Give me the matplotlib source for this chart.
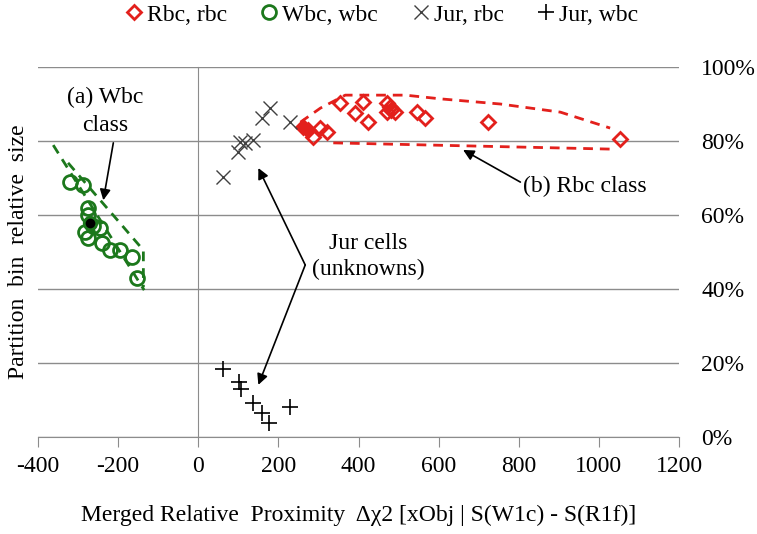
import matplotlib.pyplot as plt
from matplotlib.ticker import PercentFormatter

plt.rcParams['font.family'] = ['Liberation Serif', 'DejaVu Serif']
plt.rcParams['axes.unicode_minus'] = False

# Rbc cells (red diamonds), values in percent
rbc_x = [287, 305, 322, 354, 392, 412, 424, 472, 472, 478, 482, 492, 547, 567, 724, 1053]
rbc_y = [81.1, 83.5, 82.4, 90.3, 87.6, 90.5, 85.1, 90.3, 87.8, 89.3, 88.5, 87.8, 87.8, 86.2, 85.1, 80.5]
rbc_center_x = [262, 274]
rbc_center_y = [83.8, 83.0]

# Wbc cells (green circles)
wbc_x = [-320, -287, -275, -275, -282, -275, -262, -245, -240, -220, -195, -165, -152]
wbc_y = [68.9, 68.1, 61.9, 60.0, 55.4, 53.8, 57.0, 56.5, 52.4, 50.5, 50.5, 48.6, 43.0]
wbc_center_x = [-270]
wbc_center_y = [57.8]

# Jur cells (unknowns)
jur_rbc_x = [62, 100, 105, 117, 137, 160, 180, 230]
jur_rbc_y = [70.3, 77.0, 79.7, 79.5, 80.3, 86.2, 88.9, 85.1]
jur_wbc_x = [62, 102, 107, 137, 160, 177, 230]
jur_wbc_y = [18.4, 14.9, 13.0, 9.2, 6.5, 3.8, 8.1]

# hand-drawn class outlines
rbc_upper_x = [255, 305, 367, 517, 604, 754, 904, 1028]
rbc_upper_y = [85.1, 88.9, 92.4, 92.4, 91.4, 90.0, 87.8, 83.5]
rbc_lower_x = [337, 1036]
rbc_lower_y = [79.5, 77.8]
wbc_left_x = [-362, -135]
wbc_left_y = [78.9, 39.7]
wbc_right_x = [-325, -137, -137]
wbc_right_y = [74.1, 50.5, 40.5]

red = '#e3201c'
green = '#1c781c'
grid = '#8c8c8c'
fs = 17

fig = plt.figure(figsize=(7.57, 5.34), dpi=100)
ax = fig.add_axes([0.0502, 0.1816, 0.8468, 0.6929])

ax.plot(rbc_upper_x, rbc_upper_y, '--', color=red, lw=2, dashes=(3.5, 2.5))
ax.plot(rbc_lower_x, rbc_lower_y, '--', color=red, lw=2, dashes=(3.5, 2.5))
ax.plot(wbc_left_x, wbc_left_y, '--', color=green, lw=2, dashes=(3.5, 2.5))
ax.plot(wbc_right_x, wbc_right_y, '--', color=green, lw=2, dashes=(3.5, 2.5))

h1, = ax.plot(rbc_x, rbc_y, 'D', ls='none', ms=7.5, mfc='none', mec=red, mew=2, label='Rbc, rbc')
ax.plot(rbc_center_x, rbc_center_y, 'D', ls='none', ms=7.5, mfc=red, mec=red, mew=2)
h2, = ax.plot(wbc_x, wbc_y, 'o', ls='none', ms=10, mfc='none', mec=green, mew=2, label='Wbc, wbc')
ax.plot(wbc_center_x, wbc_center_y, 'o', ls='none', ms=9, mfc='black', mec=green, mew=2)
h3, = ax.plot(jur_rbc_x, jur_rbc_y, 'x', ls='none', ms=10, color='#404040', mew=1, label='Jur, rbc')
h4, = ax.plot(jur_wbc_x, jur_wbc_y, '+', ls='none', ms=11, color='black', mew=1.2, label='Jur, wbc')

ax.set_xlim(-400, 1200)
ax.set_ylim(0, 100)
ax.set_xticks(range(-400, 1201, 200))
ax.set_yticks(range(0, 101, 20))
ax.yaxis.set_major_formatter(PercentFormatter(100, decimals=0))
ax.yaxis.tick_right()
ax.grid(axis='y', color=grid, lw=1)
ax.set_axisbelow(True)

ax.spines['top'].set_visible(False)
ax.spines['right'].set_visible(False)
ax.spines['left'].set_position(('data', 0))
ax.spines['left'].set_color(grid)
ax.spines['bottom'].set_color(grid)
ax.tick_params(axis='x', direction='out', length=7, color=grid, labelsize=fs, pad=7)
ax.tick_params(axis='y', length=0, labelsize=fs, pad=16)

ax.set_xlabel('Merged Relative  Proximity  \u0394\u03c72 [xObj | S(W1c) - S(R1f)]', fontsize=fs, labelpad=20)
fig.text(0.025, 0.528, 'Partition  bin  relative  size', rotation=90, fontsize=fs, ha='center', va='center')

arrow = dict(arrowstyle='-|>', color='black', lw=1.2, mutation_scale=16, shrinkA=0, shrinkB=0)
ax.text(-232, 88, '(a) Wbc\nclass', ha='center', va='center', fontsize=fs, linespacing=1.4)
ax.annotate('', xy=(-237, 64), xytext=(-212, 79.5), arrowprops=arrow)
ax.text(966, 67.6, '(b) Rbc class', ha='center', va='center', fontsize=fs)
ax.annotate('', xy=(661, 77.6), xytext=(804, 68.9), arrowprops=arrow)
ax.text(424, 48.8, 'Jur cells\n(unknowns)', ha='center', va='center', fontsize=fs, linespacing=1.3)
ax.annotate('', xy=(150, 72.7), xytext=(267, 46.5), arrowprops=arrow)
ax.annotate('', xy=(150, 14.1), xytext=(267, 46.5), arrowprops=arrow)

fig.legend(handles=[h1, h2, h3, h4], loc='center', bbox_to_anchor=(0.502, 0.972), ncol=4,
           frameon=False, fontsize=fs, handletextpad=0.05, columnspacing=1.3, handlelength=1.0)

fig.savefig('out.png', dpi=100)
